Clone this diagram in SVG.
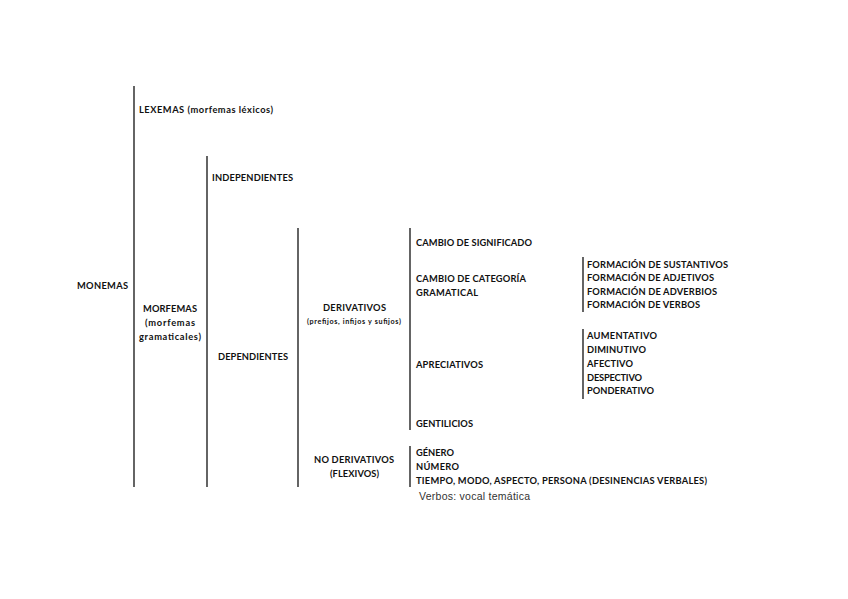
<svg xmlns="http://www.w3.org/2000/svg" width="848" height="599" viewBox="0 0 848 599">
<style>
text{font-family:Lato,"Liberation Sans",sans-serif;font-weight:bold;font-size:9.3px;fill:#111}
.c{text-anchor:middle}
.s{font-size:7.2px}
.v{font-family:"Liberation Sans",Arial,sans-serif;font-weight:normal;font-size:10.5px;fill:#333}
.ln{stroke:#111;stroke-width:1.3;fill:none}
</style>
<rect width="848" height="599" fill="#fff"/>
<g id="connectors">
<line class="ln" x1="134" y1="86" x2="134" y2="487"/>
<line class="ln" x1="207" y1="156" x2="207" y2="487"/>
<line class="ln" x1="298" y1="228" x2="298" y2="487"/>
<line class="ln" x1="410" y1="228" x2="410" y2="430"/>
<line class="ln" x1="410" y1="446" x2="410" y2="487"/>
<line class="ln" x1="583" y1="257" x2="583" y2="312"/>
<line class="ln" x1="583" y1="329" x2="583" y2="399"/>
</g>
<g id="monemas"><text x="77" y="289" textLength="51" lengthAdjust="spacing">MONEMAS</text></g>
<g id="lexemas"><text x="139" y="113" textLength="134" lengthAdjust="spacing">LEXEMAS (morfemas léxicos)</text></g>
<g id="morfemas"><text class="c" x="170" y="312" textLength="54" lengthAdjust="spacing">MORFEMAS</text><text class="c" x="170" y="326" textLength="50" lengthAdjust="spacing">(morfemas</text><text class="c" x="170" y="340" textLength="62" lengthAdjust="spacing">gramaticales)</text></g>
<g id="independientes"><text x="212" y="181" textLength="81" lengthAdjust="spacing">INDEPENDIENTES</text></g>
<g id="dependientes"><text class="c" x="253" y="360" textLength="70" lengthAdjust="spacing">DEPENDIENTES</text></g>
<g id="derivativos"><text class="c" x="354.5" y="311" textLength="63" lengthAdjust="spacing">DERIVATIVOS</text><text class="c s" x="354" y="323.5" textLength="94" lengthAdjust="spacing">(prefijos, infijos y sufijos)</text></g>
<g id="no-derivativos"><text class="c" x="354" y="463" textLength="80" lengthAdjust="spacing">NO DERIVATIVOS</text><text class="c" x="354.5" y="477" textLength="49" lengthAdjust="spacing">(FLEXIVOS)</text></g>
<g id="cambio-significado"><text x="416" y="246" textLength="116" lengthAdjust="spacing">CAMBIO DE SIGNIFICADO</text></g>
<g id="cambio-categoria"><text x="416" y="282" textLength="110" lengthAdjust="spacing">CAMBIO DE CATEGORÍA</text><text x="416" y="296" textLength="62" lengthAdjust="spacing">GRAMATICAL</text></g>
<g id="apreciativos"><text x="416" y="368" textLength="67" lengthAdjust="spacing">APRECIATIVOS</text></g>
<g id="gentilicios"><text x="416" y="427" textLength="57" lengthAdjust="spacing">GENTILICIOS</text></g>
<g id="flexivos-list"><text x="416" y="456" textLength="38" lengthAdjust="spacing">GÉNERO</text><text x="416" y="470" textLength="43" lengthAdjust="spacing">NÚMERO</text><text x="416" y="484" textLength="291" lengthAdjust="spacing">TIEMPO, MODO, ASPECTO, PERSONA (DESINENCIAS VERBALES)</text><text class="v" x="419" y="499.5" textLength="111" lengthAdjust="spacing">Verbos: vocal temática</text></g>
<g id="formacion"><text x="587" y="268" textLength="141" lengthAdjust="spacing">FORMACIÓN DE SUSTANTIVOS</text><text x="587" y="281" textLength="127" lengthAdjust="spacing">FORMACIÓN DE ADJETIVOS</text><text x="587" y="295" textLength="130" lengthAdjust="spacing">FORMACIÓN DE ADVERBIOS</text><text x="587" y="308" textLength="113" lengthAdjust="spacing">FORMACIÓN DE VERBOS</text></g>
<g id="apreciativos-list"><text x="587" y="339" textLength="70" lengthAdjust="spacing">AUMENTATIVO</text><text x="587" y="353" textLength="59" lengthAdjust="spacing">DIMINUTIVO</text><text x="587" y="367" textLength="46" lengthAdjust="spacing">AFECTIVO</text><text x="587" y="381" textLength="55" lengthAdjust="spacing">DESPECTIVO</text><text x="587" y="394" textLength="67" lengthAdjust="spacing">PONDERATIVO</text></g>
</svg>
